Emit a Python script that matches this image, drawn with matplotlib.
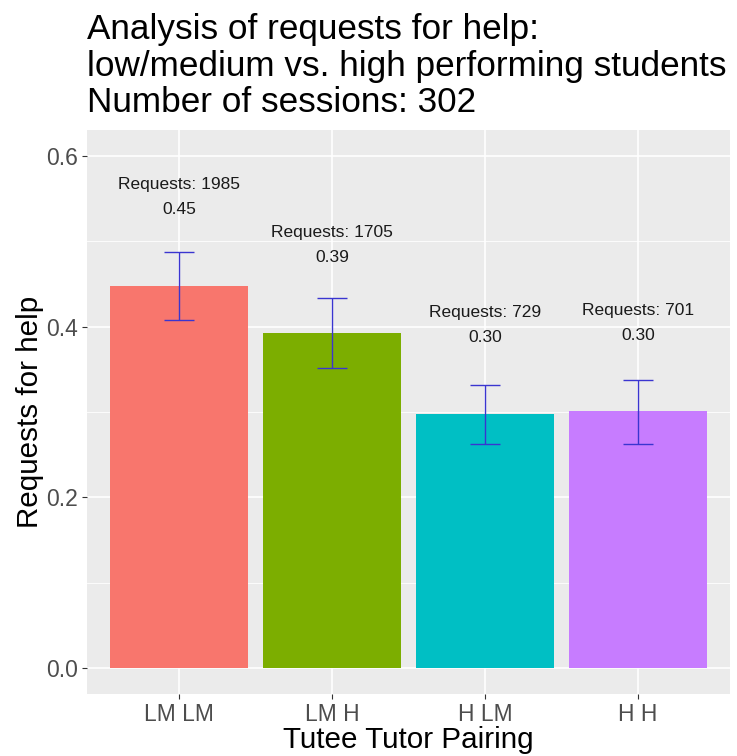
import matplotlib
matplotlib.use("Agg")
import matplotlib.pyplot as plt
import numpy as np

plt.rcParams['font.family'] = ['Liberation Sans', 'DejaVu Sans']

categories = ["LM LM", "LM H", "H LM", "H H"]
values = [0.448, 0.392, 0.298, 0.301]
err_low = [0.408, 0.351, 0.263, 0.262]
err_high = [0.487, 0.433, 0.332, 0.337]
requests = [1985, 1705, 729, 701]
value_labels = ["0.45", "0.39", "0.30", "0.30"]
colors = ["#F8766D", "#7CAE00", "#00BFC4", "#C77CFF"]
title_lines = ["Analysis of requests for help:",
               "low/medium vs. high performing students",
               "Number of sessions: 302"]

W, H = 737, 756
fig = plt.figure(figsize=(W / 100, H / 100), dpi=100)
left, right, top, bottom = 87, 730, 130, 694
ax = fig.add_axes([left / W, 1 - bottom / H, (right - left) / W, (bottom - top) / H])
ax.set_facecolor("#EBEBEB")

x = np.arange(1, len(categories) + 1)
ax.set_xlim(0.4, 4.6)
ax.set_ylim(-0.03, 0.63)

for y in [0.1, 0.3, 0.5]:
    ax.axhline(y, color="white", lw=0.6, zorder=0)
for y in [0.0, 0.2, 0.4, 0.6]:
    ax.axhline(y, color="white", lw=1.2, zorder=0)
for xi in x:
    ax.axvline(xi, color="white", lw=1.2, zorder=0)

ax.bar(x, values, width=0.9, color=colors, zorder=2)
ax.errorbar(x, values,
            yerr=[np.array(values) - np.array(err_low), np.array(err_high) - np.array(values)],
            fmt="none", ecolor="#3a35d0", elinewidth=1.0, capsize=11, capthick=1.0, zorder=3)

for xi, v, r, lab in zip(x, values, requests, value_labels):
    ax.text(xi, v + 0.118, f"Requests: {r}", ha="center", va="center", fontsize=12.5, color="#1a1a1a", zorder=4)
    ax.text(xi, v + 0.089, lab, ha="center", va="center", fontsize=12.5, color="#1a1a1a", zorder=4)

ax.set_xticks(x)
ax.set_xticklabels(categories)
ax.set_yticks([0.0, 0.2, 0.4, 0.6])
ax.set_yticklabels(["0.0", "0.2", "0.4", "0.6"])
ax.tick_params(axis="both", colors="#333333", labelcolor="#4D4D4D", labelsize=16.5, length=3.5, width=0.8, pad=3)
for s in ax.spines.values():
    s.set_visible(False)

ax.set_xlabel("Tutee Tutor Pairing", fontsize=21.3, color="black", labelpad=0)
ax.set_ylabel("Requests for help", fontsize=21.3, color="black", labelpad=1.5)

for line, base in zip(title_lines, [39, 76, 112]):
    fig.text(left / W, 1 - base / H, line, ha="left", va="baseline", fontsize=25.3, color="black")

fig.savefig("out.png", dpi=100)
